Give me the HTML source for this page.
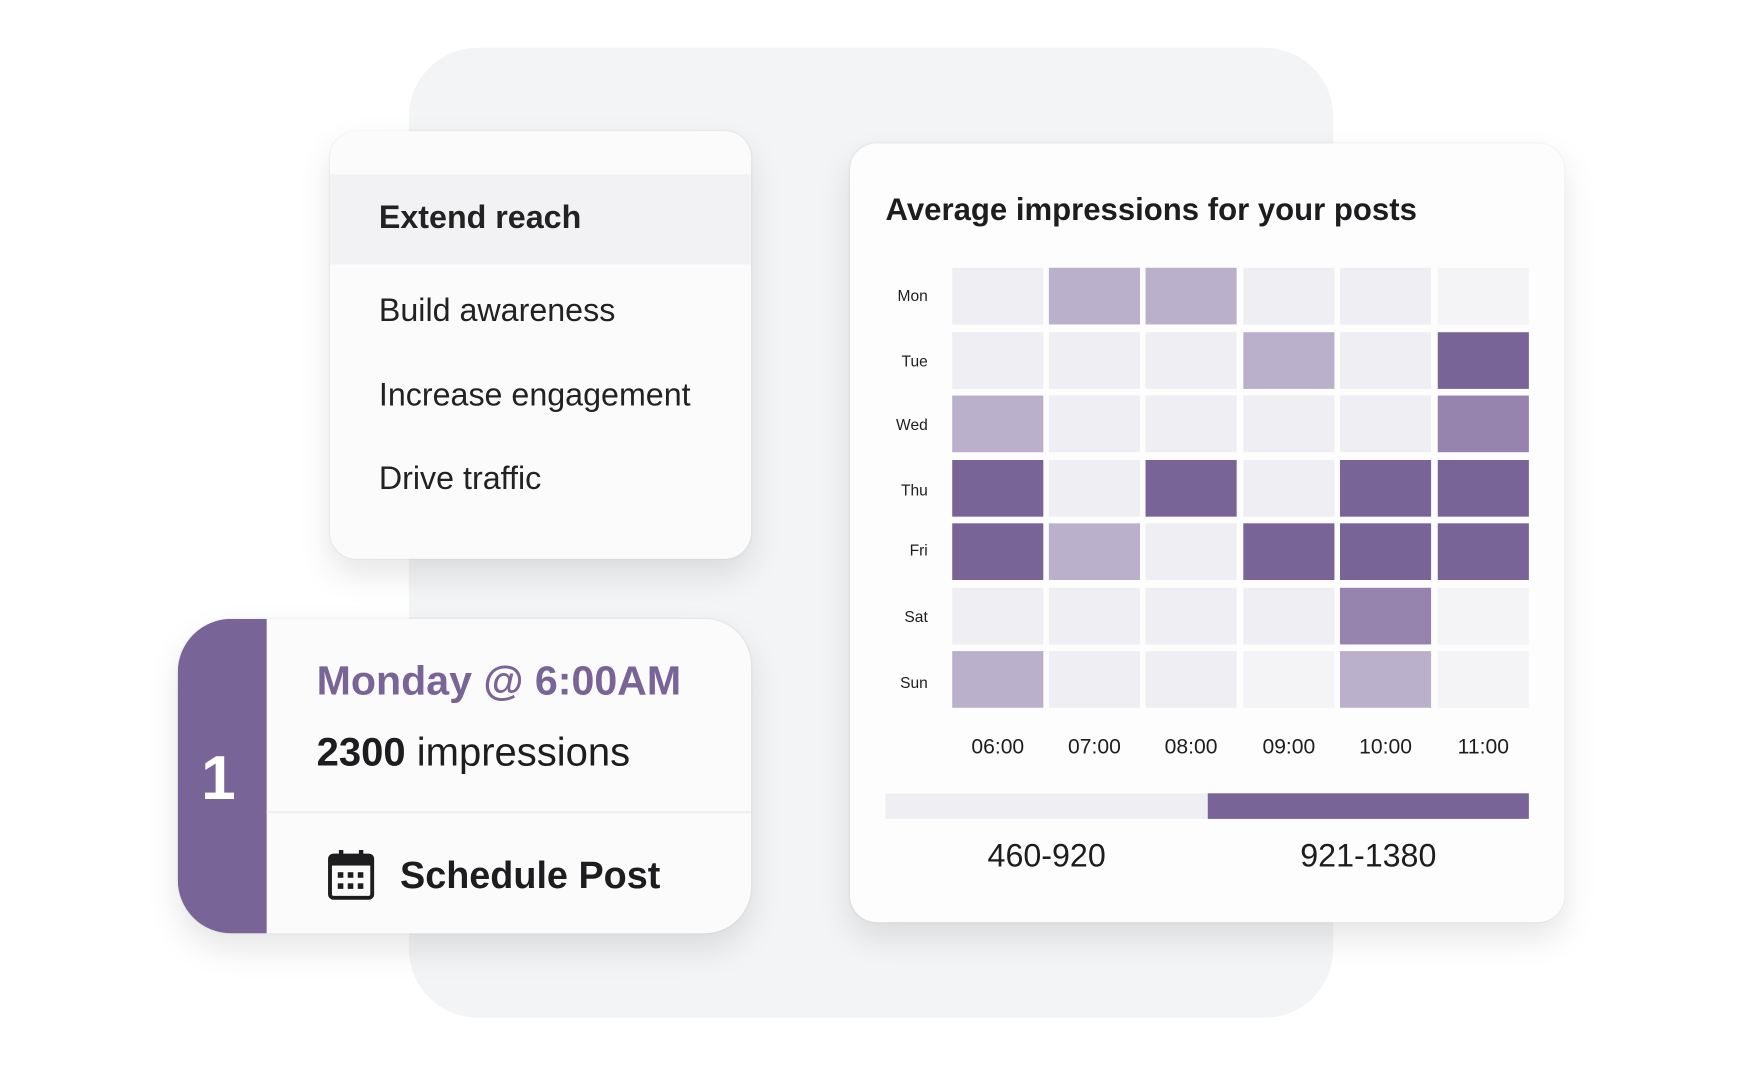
<!DOCTYPE html>
<html><head><meta charset="utf-8"><style>
*{margin:0;padding:0;box-sizing:border-box}
body{width:1740px;height:1065px;background:#fff;overflow:hidden;font-family:"Liberation Sans",sans-serif;color:#1d1d1f}
#s{position:absolute;left:0;top:0;width:1566px;height:959px;transform:scale(1.1111);transform-origin:0 0}
.a{position:absolute}
.bg{left:368px;top:43px;width:832px;height:873px;background:#f3f4f6;border-radius:62px}
.card{background:#fbfbfb;box-shadow:0 14px 30px rgba(0,0,0,0.10),0 0 2px rgba(0,0,0,0.08)}
.t{position:absolute;white-space:nowrap;line-height:1}
.c{position:absolute;width:82px;height:51px}
.E{background:#efeef3}.L{background:#bab0cb}.M{background:#9683ae}.D{background:#786497}.V{background:#f4f4f6}
.day{position:absolute;width:60px;text-align:right;font-size:14px;left:775px}
.tm{position:absolute;width:82px;text-align:center;font-size:19px;top:662px}
</style></head><body><div id="s">
<div class="a bg"></div>

<div class="a card" style="left:297px;top:118px;width:379px;height:385px;border-radius:24px;overflow:hidden">
<div class="a" style="left:0;top:39px;width:379px;height:81px;background:#f2f2f4"></div>
</div>
<div class="t" style="left:341px;top:182px;font-size:29px;font-weight:bold;color:#222">Extend reach</div>
<div class="t" style="left:341px;top:266px;font-size:29px;color:#222">Build awareness</div>
<div class="t" style="left:341px;top:342px;font-size:29px;color:#222">Increase engagement</div>
<div class="t" style="left:341px;top:417px;font-size:29px;color:#222">Drive traffic</div>

<div class="a card" style="left:160px;top:557px;width:516px;height:283px;border-radius:48px 42px 42px 48px;overflow:hidden">
<div class="a" style="left:0;top:0;width:80px;height:283px;background:#786497"></div>
<div class="a" style="left:80px;top:173px;width:436px;height:2px;background:#f0f0f2"></div>
</div>
<div class="t" style="left:181px;top:672px;font-size:56px;font-weight:bold;color:#fff">1</div>
<div class="t" style="left:285px;top:594px;font-size:37px;font-weight:bold;color:#786497">Monday @ 6:00AM</div>
<div class="t" style="left:285px;top:659px;font-size:36px;color:#1d1d1f"><b>2300</b> impressions</div>
<svg class="a" style="left:295px;top:764px" width="42" height="46" viewBox="0 0 42 46">
<rect x="2" y="6" width="38" height="38" rx="3" fill="none" stroke="#1d1d1f" stroke-width="3.5"/>
<rect x="2" y="6" width="38" height="9" fill="#1d1d1f"/>
<rect x="10" y="1" width="4" height="9" fill="#1d1d1f"/><rect x="28" y="1" width="4" height="9" fill="#1d1d1f"/>
<g fill="#1d1d1f"><rect x="9" y="21" width="5" height="5"/><rect x="18" y="21" width="5" height="5"/><rect x="27" y="21" width="5" height="5"/>
<rect x="9" y="31" width="5" height="5"/><rect x="18" y="31" width="5" height="5"/><rect x="27" y="31" width="5" height="5"/></g>
</svg>
<div class="t" style="left:360px;top:771px;font-size:34px;font-weight:bold;color:#1d1d1f">Schedule Post</div>

<div class="a card" style="left:765px;top:129px;width:643px;height:701px;border-radius:24px;background:#fdfdfd"></div>
<div class="t" style="left:797px;top:175px;font-size:28px;font-weight:bold;color:#1d1d1f">Average impressions for your posts</div>

<div class="day" style="top:258px">Mon</div>
<div class="day" style="top:317px">Tue</div>
<div class="day" style="top:374px">Wed</div>
<div class="day" style="top:433px">Thu</div>
<div class="day" style="top:487px">Fri</div>
<div class="day" style="top:547px">Sat</div>
<div class="day" style="top:606px">Sun</div>

<div id="g"></div>
<script>
var xs=[857,944,1031,1119,1206,1294],ys=[241,299,356,414,471,529,586];
var d=["ELLEEV","EEELED","LEEEEM","DEDEDD","DLEDDD","EEEEMV","LEEVLV"];
var h="";for(var r=0;r<7;r++)for(var c=0;c<6;c++)h+='<div class="c '+d[r][c]+'" style="left:'+xs[c]+'px;top:'+ys[r]+'px"></div>';
document.getElementById("g").innerHTML=h;
</script>

<div class="tm" style="left:857px">06:00</div>
<div class="tm" style="left:944px">07:00</div>
<div class="tm" style="left:1031px">08:00</div>
<div class="tm" style="left:1119px">09:00</div>
<div class="tm" style="left:1206px">10:00</div>
<div class="tm" style="left:1294px">11:00</div>

<div class="a" style="left:797px;top:714px;width:290px;height:23px;background:#efeef3"></div>
<div class="a" style="left:1087px;top:714px;width:289px;height:23px;background:#786497"></div>
<div class="t" style="left:797px;width:290px;text-align:center;top:757px;font-size:29px">460-920</div>
<div class="t" style="left:1087px;width:289px;text-align:center;top:757px;font-size:29px">921-1380</div>
</div></body></html>
